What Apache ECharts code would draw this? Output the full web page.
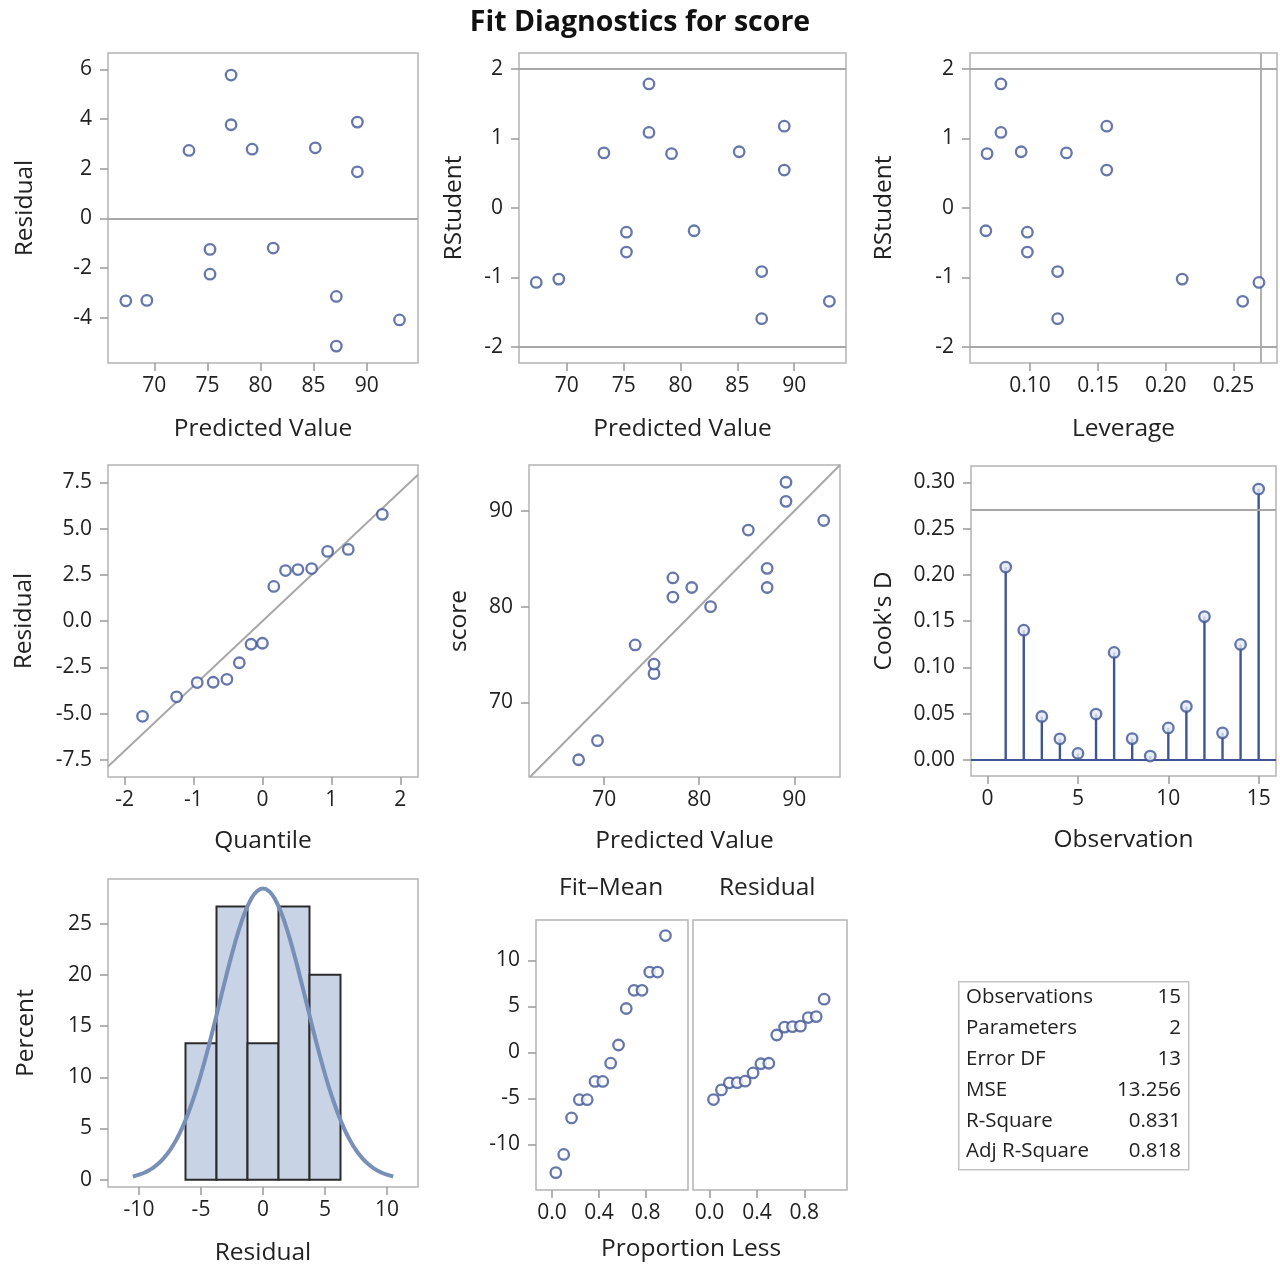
<!DOCTYPE html>
<html><head><meta charset="utf-8">
<script src="https://cdn.jsdelivr.net/npm/echarts@6/dist/echarts.min.js"></script>
<style>html,body{margin:0;padding:0;background:#fff}#c{width:1280px;height:1267px}</style>
</head><body><div id="c"></div>
<script>
// ---- data ----
const observation = [1,2,3,4,5,6,7,8,9,10,11,12,13,14,15];
const score     = [64, 66, 76, 73, 74, 81, 83, 82, 80, 88, 84, 82, 91, 93, 89];
const predicted = [67.316, 69.299, 73.264, 75.246, 75.246, 77.228, 77.228, 79.211, 81.193, 85.158, 87.140, 87.140, 89.122, 89.122, 93.087];
const residual  = [-3.316, -3.299, 2.736, -2.246, -1.246, 3.772, 5.772, 2.789, -1.193, 2.842, -3.140, -5.140, 1.878, 3.878, -4.087];
const rstudent  = [-1.071, -1.023, 0.793, -0.634, -0.348, 1.087, 1.785, 0.782, -0.327, 0.809, -0.914, -1.592, 0.546, 1.177, -1.342];
const leverage  = [0.2687, 0.2121, 0.1268, 0.0980, 0.0980, 0.0785, 0.0785, 0.0683, 0.0674, 0.0934, 0.1203, 0.1203, 0.1565, 0.1565, 0.2567];
const cooksD    = [0.2084, 0.1402, 0.0470, 0.0229, 0.0071, 0.0496, 0.1162, 0.0231, 0.0042, 0.0346, 0.0578, 0.1549, 0.0293, 0.1248, 0.2927];
const normalQuantile = [-1.739, -1.245, -0.946, -0.714, -0.515, -0.335, -0.165, 0, 0.165, 0.335, 0.515, 0.714, 0.946, 1.245, 1.739];
const sortedResidual = [-5.140, -4.087, -3.316, -3.299, -3.140, -2.246, -1.246, -1.193, 1.878, 2.736, 2.789, 2.842, 3.772, 3.878, 5.772];
const sortedFitMinusMean = [-13.084, -11.101, -7.136, -5.154, -5.154, -3.172, -3.172, -1.189, 0.793, 4.758, 6.740, 6.740, 8.722, 8.722, 12.687];
const proportionLess = [0.033, 0.100, 0.167, 0.233, 0.300, 0.367, 0.433, 0.500, 0.567, 0.633, 0.700, 0.767, 0.833, 0.900, 0.967];
const binStart   = [-6.25, -3.75, -1.25, 1.25, 3.75];
const binEnd     = [-3.75, -1.25, 1.25, 3.75, 6.25];
const binPercent = [13.33, 26.67, 13.33, 26.67, 20.00];
const curveX = [-10.5,-10,-9.5,-9,-8.5,-8,-7.5,-7,-6.5,-6,-5.5,-5,-4.5,-4,-3.5,-3,-2.5,-2,-1.5,-1,-0.5,0,0.5,1,1.5,2,2.5,3,3.5,4,4.5,5,5.5,6,6.5,7,7.5,8,8.5,9,9.5,10,10.5];
const curveY = [0.32,0.49,0.73,1.06,1.51,2.11,2.89,3.88,5.11,6.59,8.32,10.30,12.49,14.84,17.29,19.72,22.06,24.17,25.95,27.30,28.14,28.43,28.14,27.30,25.95,24.17,22.06,19.72,17.29,14.84,12.49,10.30,8.32,6.59,5.11,3.88,2.89,2.11,1.51,1.06,0.73,0.49,0.32];
const residualSD = 3.508;        // slope of the Q-Q reference line
const rstudentLimit = 2;         // +/- reference lines
const leverageCutoff = 0.2667;   // vertical reference line
const cooksCutoff = 0.2667;      // horizontal reference line
const tableLabels = ['Observations', 'Parameters', 'Error DF', 'MSE', 'R-Square', 'Adj R-Square'];
const tableValues = ['15', '2', '13', '13.256', '0.831', '0.818'];

// ---- ticks ----
const ticksPred1 = [70, 75, 80, 85, 90];
const ticksResid1 = [-4, -2, 0, 2, 4, 6];
const ticksRStud = [-2, -1, 0, 1, 2];
const ticksLev = [0.10, 0.15, 0.20, 0.25];
const ticksQuant = [-2, -1, 0, 1, 2];
const ticksQQ = [-7.5, -5.0, -2.5, 0.0, 2.5, 5.0, 7.5];
const ticksScore = [70, 80, 90];
const ticksObs = [0, 5, 10, 15];
const ticksCook = [0, 0.05, 0.10, 0.15, 0.20, 0.25, 0.30];
const ticksHist = [-10, -5, 0, 5, 10];
const ticksPct = [0, 5, 10, 15, 20, 25];
const ticksProp = [0.0, 0.4, 0.8];
const ticksSpread = [-10, -5, 0, 5, 10];

const zip = (a, b) => a.map((v, i) => [v, b[i]]);

const FONT = 'Open Sans';
const TXT = '#222222';
const BOX = '#b4b4b4';
const REF = '#a8a8a8';
const BLUE = '#3f5596';
const NAMESIZE = 24.5;
const TICKSIZE = 21;

function grid(left, top, width, height) {
  return { left, top, width, height, show: true, borderColor: BOX, borderWidth: 1.5, backgroundColor: '#fff', containLabel: false };
}
function axis(gi, min, max, ticks, name, nameGap, dec, isY, opts) {
  opts = opts || {};
  return Object.assign({
    type: 'value', gridIndex: gi, min, max,
    name, nameLocation: 'middle', nameGap,
    nameTextStyle: { fontSize: NAMESIZE, color: TXT, fontFamily: FONT },
    axisLine: { show: false, onZero: false },
    axisTick: { show: true, length: 8, lineStyle: { color: '#9a9a9a', width: 1.5 }, customValues: ticks },
    axisLabel: { show: true, fontSize: TICKSIZE, color: TXT, fontFamily: FONT, margin: isY ? 16 : 13, customValues: ticks,
      formatter: v => (dec != null ? Number(v).toFixed(dec) : String(v)) },
    splitLine: { show: false }
  }, opts);
}
const mk = { symbol: 'circle', symbolSize: 10.5, itemStyle: { color: '#ffffff', borderColor: BLUE, borderWidth: 2.3 } };
function scatter(xi, data, extra) {
  return Object.assign({ type: 'scatter', xAxisIndex: xi, yAxisIndex: xi, data, z: 5 }, mk, extra || {});
}
function refLine(dataDef, color) {
  return { silent: true, symbol: 'none', label: { show: false }, animation: false,
    lineStyle: { color: color || REF, width: 1.8, type: 'solid' }, data: dataDef };
}

const grids = [
  grid(108, 53, 310, 310),
  grid(519, 53, 327, 310),
  grid(970, 53, 307, 310),
  grid(108, 465, 310, 312),
  grid(529, 465, 311, 312),
  grid(971, 466, 305, 310),
  grid(108, 879, 310, 311),
  grid(536, 920, 152, 270),
  grid(693, 920, 154, 270)
];

const xAxes = [
  axis(0, 65.64, 94.83, ticksPred1, 'Predicted Value', 54),
  axis(1, 65.8, 94.55, ticksPred1, 'Predicted Value', 54),
  axis(2, 0.0557, 0.282, ticksLev, 'Leverage', 54, 2),
  axis(3, -2.24, 2.257, ticksQuant, 'Quantile', 52),
  axis(4, 62.1, 94.8, ticksScore, 'Predicted Value', 52),
  axis(5, -0.92, 15.96, ticksObs, 'Observation', 52),
  axis(6, -12.5, 12.5, ticksHist, 'Residual', 54),
  axis(7, -0.136, 1.159, ticksProp, '', 42, 1),
  axis(8, -0.14, 1.16, ticksProp, '', 42, 1)
];
const yAxes = [
  axis(0, -5.82, 6.66, ticksResid1, 'Residual', 70, null, true),
  axis(1, -2.23, 2.23, ticksRStud, 'RStudent', 52, null, true),
  axis(2, -2.23, 2.23, ticksRStud, 'RStudent', 73, null, true),
  axis(3, -8.42, 8.44, ticksQQ, 'Residual', 71, 1, true),
  axis(4, 62.2, 94.8, ticksScore, 'score', 57, null, true),
  axis(5, -0.0173, 0.3176, ticksCook, "Cook's D", 74, 2, true),
  axis(6, -0.71, 29.35, ticksPct, 'Percent', 69, null, true),
  axis(7, -14.97, 14.38, ticksSpread, '', 50, null, true),
  axis(8, -14.97, 14.38, ticksSpread, '', 50, null, true, { axisLabel: { show: false }, axisTick: { show: false } })
];

const series = [
  // Panel 1: residual vs predicted
  scatter(0, zip(predicted, residual), { markLine: refLine([{ yAxis: 0 }]) }),
  // Panel 2: RStudent vs predicted
  scatter(1, zip(predicted, rstudent), { markLine: refLine([{ yAxis: rstudentLimit }, { yAxis: -rstudentLimit }]) }),
  // Panel 3: RStudent vs leverage
  scatter(2, zip(leverage, rstudent), { markLine: refLine([{ yAxis: rstudentLimit }, { yAxis: -rstudentLimit }, { xAxis: leverageCutoff }]) }),
  // Panel 4: Q-Q line + points
  { type: 'line', xAxisIndex: 3, yAxisIndex: 3, symbol: 'none', silent: true, z: 2,
    lineStyle: { color: REF, width: 2 },
    data: [[-2.24, -2.24 * residualSD], [2.257, 2.257 * residualSD]] },
  scatter(3, zip(normalQuantile, sortedResidual)),
  // Panel 5: score vs predicted with identity line
  { type: 'line', xAxisIndex: 4, yAxisIndex: 4, symbol: 'none', silent: true, z: 2,
    lineStyle: { color: REF, width: 2 },
    data: [[62.2, 62.2], [94.8, 94.8]] },
  scatter(4, zip(predicted, score)),
  // Panel 6: Cook's D needles
  { type: 'bar', xAxisIndex: 5, yAxisIndex: 5, barWidth: 2.4, itemStyle: { color: BLUE }, z: 3,
    data: zip(observation, cooksD),
    markLine: refLine([{ yAxis: cooksCutoff }]) },
  scatter(5, zip(observation, cooksD), { itemStyle: { color: '#e4e9f3', borderColor: BLUE, borderWidth: 2.3 }, symbolSize: 10.5,
    markLine: refLine([{ yAxis: 0 }], BLUE) }),
  // Panel 7: histogram
  { type: 'custom', xAxisIndex: 6, yAxisIndex: 6, z: 3,
    data: binStart.map((s, i) => [s, binEnd[i], binPercent[i]]),
    renderItem: function (params, api) {
      const p0 = api.coord([api.value(0), api.value(2)]);
      const p1 = api.coord([api.value(1), 0]);
      return { type: 'rect', shape: { x: p0[0], y: p0[1], width: p1[0] - p0[0], height: p1[1] - p0[1] },
        style: { fill: '#c8d3e6', stroke: '#2b2b2b', lineWidth: 2 } };
    } },
  { type: 'line', xAxisIndex: 6, yAxisIndex: 6, symbol: 'none', smooth: true, z: 4, silent: true,
    lineStyle: { color: '#7890b8', width: 4 }, data: zip(curveX, curveY) },
  // Panel 8: residual-fit spread
  scatter(7, zip(proportionLess, sortedFitMinusMean)),
  scatter(8, zip(proportionLess, sortedResidual))
];

const nameFont = NAMESIZE + 'px "' + FONT + '"';
const tableFont = '20.5px "' + FONT + '"';
const graphic = [
  { type: 'text', left: 559, top: 876, style: { text: 'Fit\u2013Mean', font: nameFont, fill: TXT } },
  { type: 'text', left: 719, top: 876, style: { text: 'Residual', font: nameFont, fill: TXT } },
  { type: 'text', left: 601, top: 1237, style: { text: 'Proportion Less', font: nameFont, fill: TXT } },
  { type: 'rect', left: 958, top: 981, shape: { width: 230, height: 188 }, style: { fill: '#fff', stroke: '#c4c4c4', lineWidth: 1.5 } }
];
tableLabels.forEach((lab, i) => {
  graphic.push({ type: 'text', left: 966, top: 987 + i * 30.8, style: { text: lab, font: tableFont, fill: TXT } });
  graphic.push({ type: 'text', right: 1280 - 1181, top: 987 + i * 30.8, style: { text: tableValues[i], font: tableFont, fill: TXT } });
});

const chart = echarts.init(document.getElementById('c'), null, { renderer: 'canvas' });
chart.setOption({
  animation: false,
  backgroundColor: '#ffffff',
  textStyle: { fontFamily: FONT },
  title: { text: 'Fit Diagnostics for score', left: 'center', top: 3,
    textStyle: { fontSize: 28.5, fontWeight: 'bold', color: '#111', fontFamily: FONT } },
  grid: grids, xAxis: xAxes, yAxis: yAxes, series, graphic
});
</script></body></html>
